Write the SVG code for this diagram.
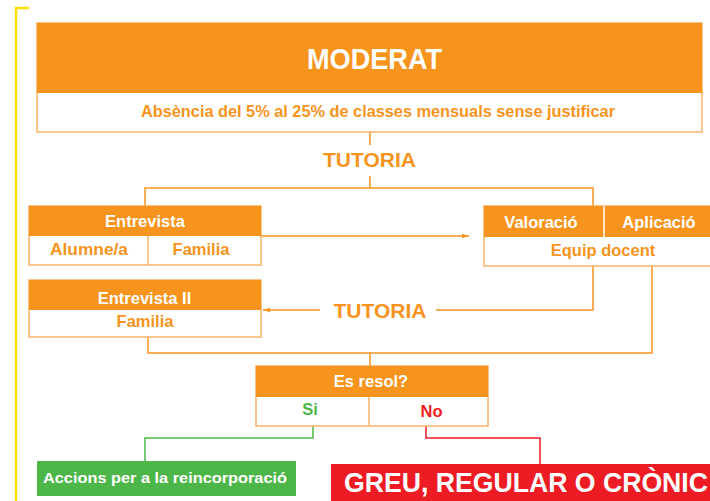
<svg xmlns="http://www.w3.org/2000/svg" width="710" height="501" viewBox="0 0 710 501">
<style>
.box{fill:#fff;stroke:#FBB36A;stroke-width:1.5}
.hd{fill:#F7941D}
.w{font-family:"Liberation Sans",Arial,sans-serif;font-weight:bold;fill:#fff;text-anchor:middle}
.o{font-family:"Liberation Sans",Arial,sans-serif;font-weight:bold;fill:#F7941D;text-anchor:middle}
.ln{fill:none;stroke:#F7941D;stroke-width:1.5}
</style>
<defs>
<marker id="ah" markerWidth="8" markerHeight="6" refX="7" refY="3" orient="auto" markerUnits="userSpaceOnUse">
<path d="M0,0.8 L7,3 L0,5.2 Z" fill="#F7941D"/>
</marker>
</defs>
<rect width="710" height="501" fill="#fff"/>
<path d="M29,8 H16 V501" fill="none" stroke="#FFE100" stroke-width="2.5"/>

<g id="connectors">
<path class="ln" d="M370,132 V145"/>
<path class="ln" d="M370,176 V188 M145,206 V188 H593 V206"/>
<path class="ln" d="M261,236 H469" marker-end="url(#ah)"/>
<path class="ln" d="M593,266 V310 H436"/>
<path class="ln" d="M320,310 H263" marker-end="url(#ah)"/>
<path class="ln" d="M652,266 V353 H148 V337 M370,353 V366"/>
<path fill="none" stroke="#4CB748" stroke-width="1.5" d="M313,426 V438 H145 V461"/>
<path fill="none" stroke="#ED1C24" stroke-width="1.5" d="M426,426 V438 H540 V464"/>
</g>

<g id="moderat">
<rect class="box" x="37" y="23" width="665" height="109"/>
<rect class="hd" x="37" y="23" width="665" height="70"/>
<text class="w" x="374.5" y="69" font-size="30" textLength="135" lengthAdjust="spacingAndGlyphs">MODERAT</text>
<text class="o" x="378" y="117" font-size="16" textLength="474" lengthAdjust="spacingAndGlyphs">Absència del 5% al 25% de classes mensuals sense justificar</text>
</g>

<g id="tutoria1">
<text class="o" x="369.5" y="167" font-size="21" textLength="93" lengthAdjust="spacingAndGlyphs">TUTORIA</text>
</g>

<g id="entrevista">
<rect class="box" x="29" y="206" width="232" height="59"/>
<rect class="hd" x="29" y="206" width="232" height="30"/>
<line x1="148" y1="236" x2="148" y2="265" stroke="#FBB36A" stroke-width="1.5"/>
<text class="w" x="145" y="227" font-size="16.5">Entrevista</text>
<text class="o" x="89" y="255" font-size="16.5" textLength="78" lengthAdjust="spacingAndGlyphs">Alumne/a</text>
<text class="o" x="201" y="255" font-size="16.5">Familia</text>
</g>

<g id="valoracio">
<rect class="box" x="484" y="206" width="240" height="60"/>
<rect class="hd" x="484" y="206" width="240" height="31"/>
<line x1="604" y1="206" x2="604" y2="237" stroke="#fff" stroke-width="1.5"/>
<text class="w" x="541" y="228" font-size="16.5">Valoració</text>
<text class="w" x="659" y="228" font-size="16.5">Aplicació</text>
<text class="o" x="603" y="256" font-size="16.5">Equip docent</text>
</g>

<g id="tutoria2">
<text class="o" x="380" y="318" font-size="21" textLength="93" lengthAdjust="spacingAndGlyphs">TUTORIA</text>
</g>

<g id="entrevista2">
<rect class="box" x="29" y="280" width="232" height="57"/>
<rect class="hd" x="29" y="280" width="232" height="30"/>
<text class="w" x="144.5" y="304" font-size="16.5">Entrevista II</text>
<text class="o" x="145" y="327" font-size="16.5">Familia</text>
</g>

<g id="esresol">
<rect class="box" x="256" y="366" width="232" height="60"/>
<rect class="hd" x="256" y="366" width="232" height="31"/>
<line x1="369" y1="397" x2="369" y2="426" stroke="#FBB36A" stroke-width="1.5"/>
<text class="w" x="371" y="387" font-size="16.5">Es resol?</text>
<text x="310" y="415" font-size="16.5" font-family="Liberation Sans,Arial,sans-serif" font-weight="bold" fill="#4CB748" text-anchor="middle">Si</text>
<text x="431.5" y="417" font-size="16.5" font-family="Liberation Sans,Arial,sans-serif" font-weight="bold" fill="#ED1C24" text-anchor="middle">No</text>
</g>

<g id="accions">
<rect x="37" y="461" width="259" height="35" fill="#4CB748"/>
<text class="w" x="165" y="483" font-size="15.5" textLength="244" lengthAdjust="spacingAndGlyphs">Accions per a la reincorporació</text>
</g>

<g id="greu">
<rect x="331" y="464" width="390" height="40" fill="#ED1C24"/>
<text class="w" x="526" y="492" font-size="28" textLength="364" lengthAdjust="spacingAndGlyphs">GREU, REGULAR O CRÒNIC</text>
</g>
</svg>
